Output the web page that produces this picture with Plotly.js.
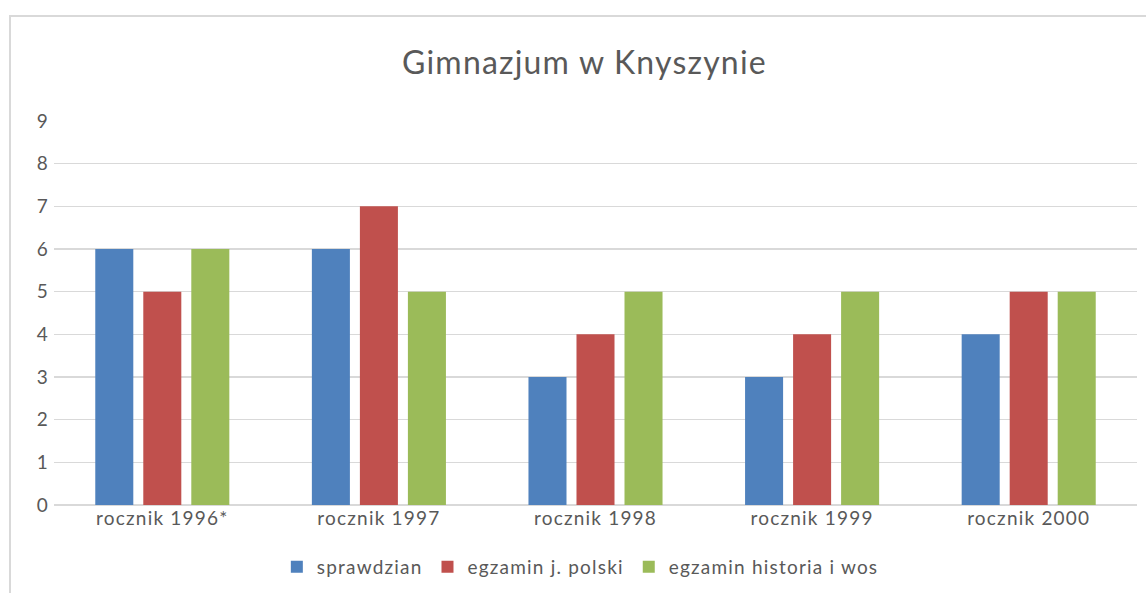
<!DOCTYPE html>
<html><head><meta charset="utf-8">
<script src="https://cdn.plot.ly/plotly-3.0.1.min.js"></script>
<style>
html,body{margin:0;padding:0;overflow:hidden;background:#fff;width:1146px;height:593px;}
#frame{position:absolute;left:9px;top:15px;width:1200px;height:700px;border:2px solid #d9d9d9;box-sizing:border-box;}
#chart{position:absolute;left:0;top:0;width:1146px;height:593px;}
svg text{letter-spacing:1.2px;}
</style></head>
<body>
<div id="frame"></div>
<div id="chart"></div>
<script>
const categories = ["rocznik 1996*", "rocznik 1997", "rocznik 1998", "rocznik 1999", "rocznik 2000"];
const sprawdzian = [6, 6, 3, 3, 4];
const polski = [5, 7, 4, 4, 5];
const historia = [6, 5, 5, 5, 5];
const seriesNames = ["sprawdzian", "egzamin j. polski", "egzamin historia i wos"];
const colors = ["#4F81BD", "#C0504D", "#9BBB59"];
const yTicks = [0, 1, 2, 3, 4, 5, 6, 7, 8, 9];

const font = "Lato, 'Open Sans', sans-serif";
const vals = [sprawdzian, polski, historia];
const traces = vals.map((v, i) => ({
  type: "bar", x: categories, y: v, name: seriesNames[i],
  marker: {color: colors[i], line: {width: 0}}, hoverinfo: "x+y+name"
}));

const layout = {
  width: 1146, height: 593,
  margin: {l: 54, r: 9, t: 121, b: 88},
  paper_bgcolor: "rgba(0,0,0,0)", plot_bgcolor: "rgba(0,0,0,0)",
  barmode: "group", bargap: 0.335, bargroupgap: 0.208,
  title: {text: "Gimnazjum w Knyszynie", font: {family: font, size: 32, color: "#595959"},
          x: 0.51, xanchor: "center", y: 1 - 63/593, yanchor: "middle", yref: "container"},
  xaxis: {type: "category", tickfont: {family: font, size: 19, color: "#595959"},
          showgrid: false, showline: false, ticks: "", zeroline: false},
  yaxis: {range: [0, 9], tickvals: yTicks, ticktext: yTicks.map(String),
          tickfont: {family: font, size: 19, color: "#595959"},
          gridcolor: "#d9d9d9", gridwidth: 1.5, zeroline: true, zerolinecolor: "#d9d9d9", zerolinewidth: 1.5,
          showline: false, ticks: "", ticklabelstandoff: 4, fixedrange: true},
  showlegend: true,
  legend: {orientation: "h", x: 0.486, xanchor: "center", y: 1 - 567/593, yanchor: "middle", yref: "container",
           font: {family: font, size: 19, color: "#595959"}, itemwidth: 30, traceorder: "normal"}
};
Plotly.newPlot("chart", traces, layout, {displayModeBar: false, staticPlot: true});
</script>
</body></html>
